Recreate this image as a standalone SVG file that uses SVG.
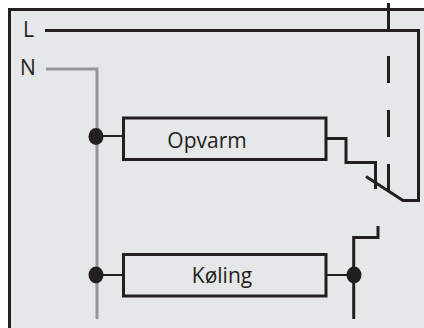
<svg xmlns="http://www.w3.org/2000/svg" width="424" height="328" viewBox="0 0 424 328">
<style>
.w{fill:none;stroke:#231f20;stroke-width:3}
.t{fill:none;stroke:#231f20;stroke-width:2}
.g{fill:none;stroke:#939598;stroke-width:3}
.b{fill:#e6e7e8;stroke:#231f20;stroke-width:3}
.d{fill:#231f20}
text{font-family:"Open Sans","Noto Sans",sans-serif;font-size:21px;fill:#231f20}
</style>
<rect width="424" height="328" fill="#fff"/>
<path d="M9.500 328V9.500H424V328Z" fill="#e6e7e8"/>
<g id="connectors">
<path class="w" d="M9.500 328V9.500H424"/>
<path class="w" d="M45 30.500H418.500V200.500H403L366 176.500"/>
<path class="w" d="M388.500 3V30"/>
<path class="w" d="M388.500 56V83M388.500 110V137M388.500 164V191"/>
<path class="g" d="M46 69H97V319"/>
<path class="t" d="M97 136H123M97 275H123M326 275H354"/>
<path class="w" d="M326 138.500H346V162.500H375.500V189"/>
<path class="w" d="M353.700 319V237.500H378V226"/>
</g>
<g id="label-L"><text x="23" y="37">L</text></g>
<g id="label-N"><text x="20" y="75">N</text></g>
<g id="junction-1"><ellipse class="d" cx="96" cy="136.500" rx="7.500" ry="8.500"/></g>
<g id="junction-2"><ellipse class="d" cx="96" cy="275" rx="7.500" ry="8.500"/></g>
<g id="junction-3"><ellipse class="d" cx="354" cy="275" rx="7.500" ry="8.500"/></g>
<g id="opvarm"><rect class="b" x="123.500" y="118" width="202.500" height="41.500"/><text x="207" y="148" text-anchor="middle">Opvarm</text></g>
<g id="koeling"><rect class="b" x="123.500" y="254.500" width="202.500" height="41.500"/><text x="222" y="283" text-anchor="middle">Køling</text></g>
</svg>
